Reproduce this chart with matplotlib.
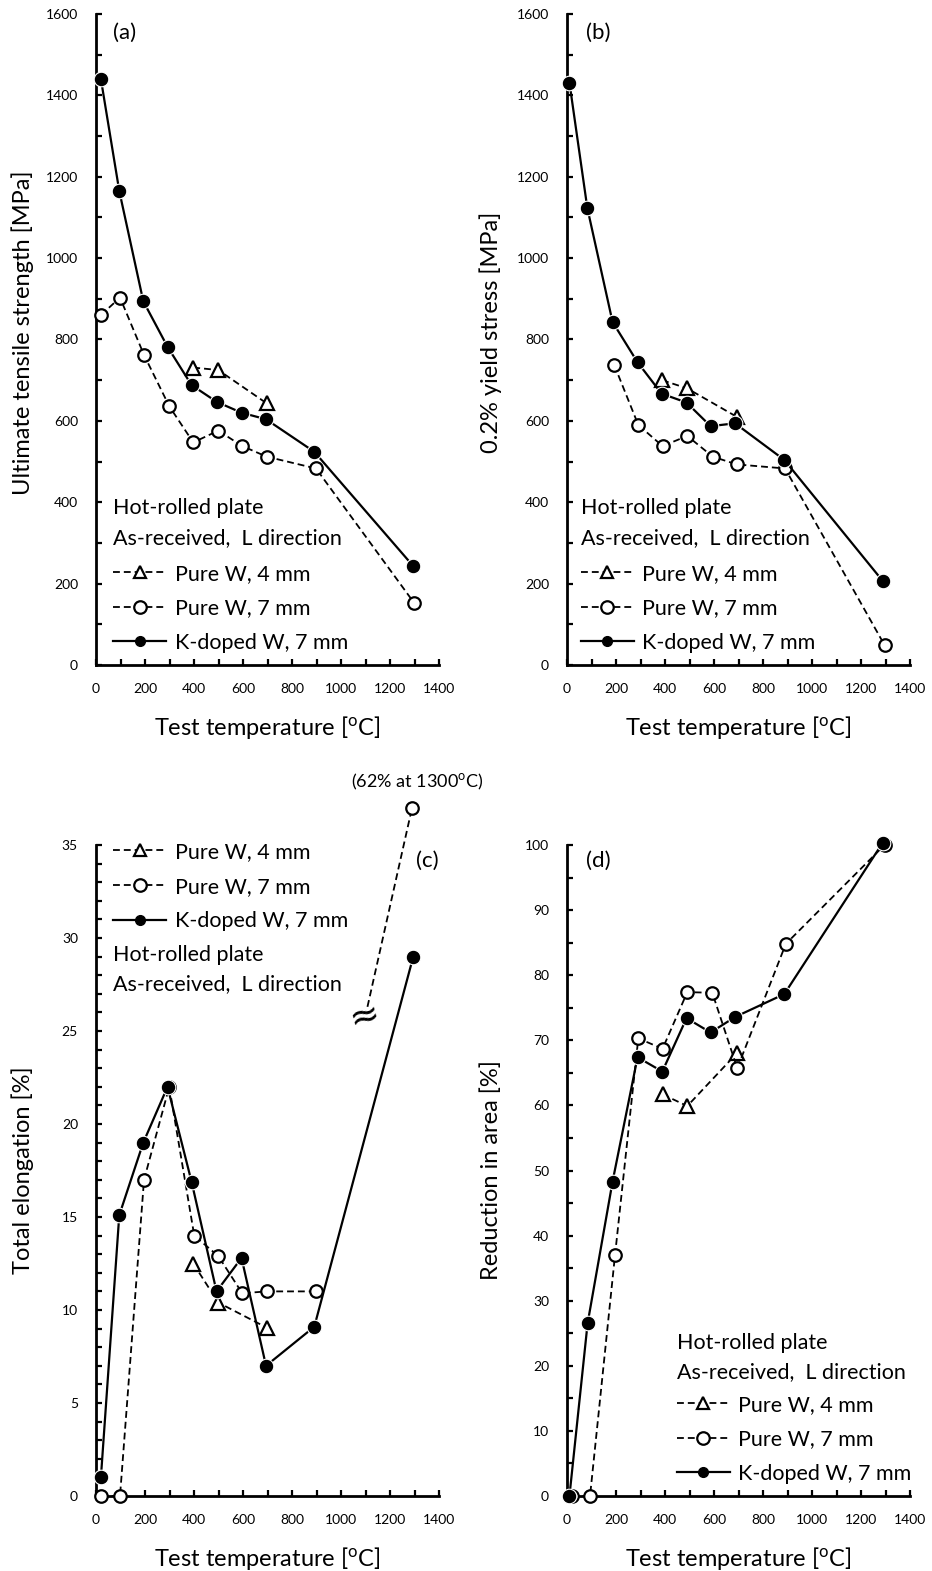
import matplotlib
matplotlib.use('Agg')
import matplotlib.pyplot as plt
from matplotlib.lines import Line2D
from matplotlib.ticker import MultipleLocator

plt.rcParams['font.family'] = ['Lato', 'DejaVu Sans']
plt.rcParams['mathtext.fontset'] = 'custom'
plt.rcParams['mathtext.rm'] = 'Lato'
plt.rcParams['mathtext.it'] = 'Lato:italic'

# ---------------- data ----------------
# (a) ultimate tensile strength [MPa]
a_T_K = [20, 95, 193, 292, 390, 492, 594, 694, 891, 1295]
a_K = [1440, 1165, 894, 782, 688, 647, 620, 604, 524, 243]
a_T_P7 = [20, 98, 196, 299, 397, 499, 597, 697, 898, 1298]
a_P7 = [860, 903, 762, 636, 547, 576, 538, 512, 483, 153]
a_T_P4 = [397, 499, 697]
a_P4 = [731, 725, 643]

# (b) 0.2% yield stress [MPa]
b_T_K = [10, 83, 186, 288, 386, 488, 586, 686, 887, 1288]
b_K = [1431, 1123, 843, 744, 667, 645, 587, 594, 504, 207]
b_T_P7 = [193, 291, 390, 491, 595, 693, 890, 1296]
b_P7 = [737, 590, 538, 563, 512, 493, 483, 49]
b_T_P4 = [388, 490, 693]
b_P4 = [700, 680, 610]

# (c) total elongation [%]
c_T_K = [20, 95, 193, 292, 390, 492, 594, 694, 891, 1295]
c_K = [1.0, 15.1, 19.0, 22.0, 16.9, 11.0, 12.8, 7.0, 9.1, 29.0]
c_T_P7 = [20, 98, 196, 299, 401, 499, 597, 697, 898]
c_P7 = [0, 0, 17.0, 22.0, 14.0, 12.9, 10.9, 11.0, 11.0]
c_T_P7_break = [1108, 1290]          # broken-axis segment up to the 62 % point
c_P7_break = [26.3, 37.0]
c_T_P4 = [397, 499, 697]
c_P4 = [12.5, 10.4, 9.05]

# (d) reduction in area [%]
d_T_K = [10, 84, 186, 288, 389, 488, 586, 687, 887, 1288]
d_K = [0, 26.5, 48.3, 67.4, 65.2, 73.4, 71.2, 73.6, 77.1, 100.3]
d_T_P7 = [19, 94, 196, 291, 390, 491, 593, 695, 893, 1296]
d_P7 = [0, 0, 37.0, 70.3, 68.7, 77.4, 77.3, 65.7, 84.8, 100]
d_T_P4 = [390, 491, 693]
d_P4 = [61.7, 59.9, 68.0]

lab_P4 = 'Pure W, 4 mm'
lab_P7 = 'Pure W, 7 mm'
lab_K = 'K-doped W, 7 mm'
cond1 = 'Hot-rolled plate'
cond2 = 'As-received,  L direction'
xlab = r'Test temperature [$^{\rm o}$C]'

# ---------------- styles ----------------
DASH = (0, (3.8, 2.2))
st_K = dict(color='black', lw=1.6, ls='-', marker='o', ms=10.5, mfc='black',
            mec='white', mew=0.8, clip_on=False, zorder=4)
st_P7 = dict(color='black', lw=1.3, ls=DASH, marker='o', ms=9, mfc='white',
             mec='black', mew=1.6, clip_on=False, zorder=3)
st_P4 = dict(color='black', lw=1.3, ls=DASH, marker='^', ms=10, mfc='white',
             mec='black', mew=1.6, clip_on=False, zorder=3)

FS_TICK = 10
FS_LAB = 17
FS_TXT = 15.5
FS_PANEL = 16

fig = plt.figure(figsize=(9.32, 15.71), dpi=100)
W, H = 932, 1571


def make_ax(x0, ytop, ybot, xright):
    return fig.add_axes([x0 / W, 1 - ybot / H, (xright - x0) / W, (ybot - ytop) / H])


ax_a = make_ax(96, 14, 665, 439)
ax_b = make_ax(567, 14, 665, 910)
ax_c = make_ax(96, 845, 1496, 439)
ax_d = make_ax(567, 845, 1496, 910)


def style(ax, ymax, ymaj, ymin):
    ax.set_xlim(0, 1400)
    ax.set_ylim(0, ymax)
    for s in ['top', 'right']:
        ax.spines[s].set_visible(False)
    for s in ['left', 'bottom']:
        ax.spines[s].set_linewidth(2.0)
    ax.xaxis.set_major_locator(MultipleLocator(200))
    ax.xaxis.set_minor_locator(MultipleLocator(100))
    ax.yaxis.set_major_locator(MultipleLocator(ymaj))
    ax.yaxis.set_minor_locator(MultipleLocator(ymin))
    ax.tick_params(which='both', direction='in', width=1.6)
    ax.tick_params(which='major', length=4, labelsize=FS_TICK, pad=13)
    ax.tick_params(which='minor', length=4)
    ax.set_xlabel(xlab, fontsize=FS_LAB)
    ax.xaxis.set_label_coords(0.5, -0.075)


def legend_handles():
    return [
        Line2D([], [], color='black', lw=1.3, ls=DASH, marker='^', ms=9,
               mfc='white', mec='black', mew=1.6),
        Line2D([], [], color='black', lw=1.3, ls=DASH, marker='o', ms=9,
               mfc='white', mec='black', mew=1.6),
        Line2D([], [], color='black', lw=1.6, ls='-', marker='o', ms=7,
               mfc='black', mec='black'),
    ]


def add_legend(ax, x, ymid):
    leg = ax.legend(legend_handles(), [lab_P4, lab_P7, lab_K], loc='center left',
                    bbox_to_anchor=(x, ymid), frameon=False, fontsize=FS_TXT,
                    handlelength=2.45, handletextpad=0.4, labelspacing=0.68,
                    borderpad=0, borderaxespad=0)
    return leg


# (a)
style(ax_a, 1600, 200, 100)
ax_a.plot(a_T_P4, a_P4, **st_P4)
ax_a.plot(a_T_P7, a_P7, **st_P7)
ax_a.plot(a_T_K, a_K, **st_K)
ax_a.set_ylabel('Ultimate tensile strength [MPa]', fontsize=FS_LAB)
ax_a.yaxis.set_label_coords(-0.18, 0.511)
ax_a.text(0.05, 0.971, '(a)', transform=ax_a.transAxes, fontsize=FS_PANEL, va='center', ha='left')
ax_a.text(0.05, 0.241, cond1, transform=ax_a.transAxes, fontsize=FS_TXT, va='center')
ax_a.text(0.05, 0.195, cond2, transform=ax_a.transAxes, fontsize=FS_TXT, va='center')
add_legend(ax_a, 0.05, 0.087)

# (b)
style(ax_b, 1600, 200, 100)
ax_b.plot(b_T_P4, b_P4, **st_P4)
ax_b.plot(b_T_P7, b_P7, **st_P7)
ax_b.plot(b_T_K, b_K, **st_K)
ax_b.set_ylabel('0.2% yield stress [MPa]', fontsize=FS_LAB)
ax_b.yaxis.set_label_coords(-0.19, 0.511)
ax_b.text(0.055, 0.971, '(b)', transform=ax_b.transAxes, fontsize=FS_PANEL, va='center', ha='left')
ax_b.text(0.041, 0.241, cond1, transform=ax_b.transAxes, fontsize=FS_TXT, va='center')
ax_b.text(0.041, 0.195, cond2, transform=ax_b.transAxes, fontsize=FS_TXT, va='center')
add_legend(ax_b, 0.041, 0.087)

# (c)
style(ax_c, 35, 5, 1)
ax_c.plot(c_T_P4, c_P4, **st_P4)
ax_c.plot(c_T_P7, c_P7, **st_P7)
st_break = dict(st_P7)
st_break['markevery'] = [1]
ax_c.plot(c_T_P7_break, c_P7_break, **st_break)
ax_c.plot(c_T_K, c_K, **st_K)
ax_c.text(1094, 25.75, '\u2248', fontsize=26, family='DejaVu Sans',
          ha='center', va='center', rotation=15, zorder=5)
ax_c.text(1310, 38.4, r'(62% at 1300$^{\rm o}$C)', fontsize=13, ha='center',
          va='center', clip_on=False)
ax_c.set_ylabel('Total elongation [%]', fontsize=FS_LAB)
ax_c.yaxis.set_label_coords(-0.18, 0.5)
ax_c.text(0.965, 0.975, '(c)', transform=ax_c.transAxes, fontsize=FS_PANEL, va='center', ha='center')
add_legend(ax_c, 0.05, 0.936)
ax_c.text(0.05, 0.831, cond1, transform=ax_c.transAxes, fontsize=FS_TXT, va='center')
ax_c.text(0.05, 0.786, cond2, transform=ax_c.transAxes, fontsize=FS_TXT, va='center')

# (d)
style(ax_d, 100, 10, 5)
ax_d.plot(d_T_P4, d_P4, **st_P4)
ax_d.plot(d_T_P7, d_P7, **st_P7)
ax_d.plot(d_T_K, d_K, **st_K)
ax_d.set_ylabel('Reduction in area [%]', fontsize=FS_LAB)
ax_d.yaxis.set_label_coords(-0.19, 0.5)
ax_d.text(0.055, 0.975, '(d)', transform=ax_d.transAxes, fontsize=FS_PANEL, va='center', ha='left')
ax_d.text(0.32, 0.235, cond1, transform=ax_d.transAxes, fontsize=FS_TXT, va='center')
ax_d.text(0.32, 0.191, cond2, transform=ax_d.transAxes, fontsize=FS_TXT, va='center')
add_legend(ax_d, 0.32, 0.087)

fig.savefig('out.png', dpi=100)
